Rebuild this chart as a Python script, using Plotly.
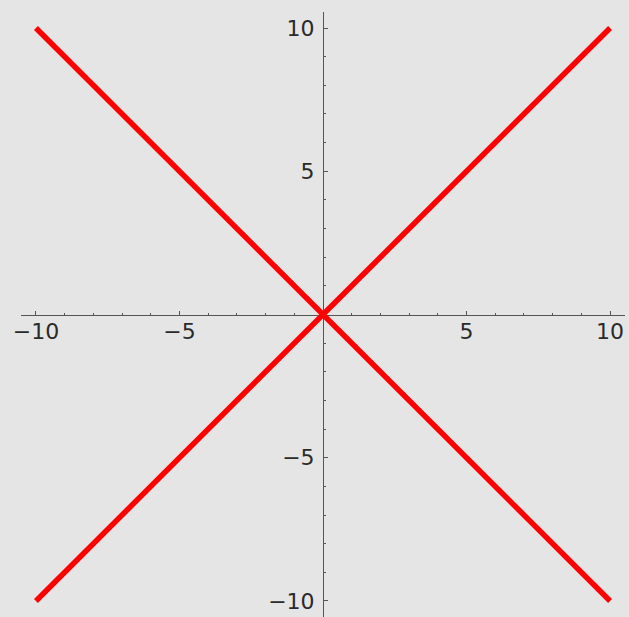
import plotly.graph_objects as go

# Two lines through the origin: y = x and y = -x
x_vals = [-10, 10]
y_rising = [-10, 10]
y_falling = [10, -10]

major_ticks = [-10, -5, 5, 10]
minor_ticks = [v for v in range(-10, 11) if v % 5 != 0]

BG = "#e5e5e5"
AXIS = "#555555"
RED = "#ff0000"

fig = go.Figure()
for ys in (y_rising, y_falling):
    fig.add_trace(go.Scatter(
        x=x_vals, y=ys, mode="lines",
        line=dict(color=RED, width=5.5),
        hoverinfo="skip", showlegend=False,
    ))

axis_common = dict(
    showgrid=False, zeroline=False,
    showline=True, linecolor=AXIS, linewidth=1,
    ticks="inside", ticklen=4, tickwidth=1, tickcolor=AXIS,
    tickmode="array", tickvals=major_ticks,
    tickfont=dict(family="DejaVu Sans", size=22, color="#2a2a2a"),
    minor=dict(tickmode="array", tickvals=minor_ticks, ticks="inside",
               ticklen=2, tickwidth=1, tickcolor=AXIS),
    layer="below traces",
    anchor="free", position=0.5,
)

fig.update_layout(
    width=629, height=617,
    margin=dict(l=21, r=4, t=12, b=0),
    paper_bgcolor=BG, plot_bgcolor=BG,
    xaxis=dict(range=[-10.52, 10.52], ticklabelstandoff=-3, **axis_common),
    yaxis=dict(range=[-10.56, 10.56], ticklabelstandoff=4, **axis_common),
)

fig.write_html("out.html")
